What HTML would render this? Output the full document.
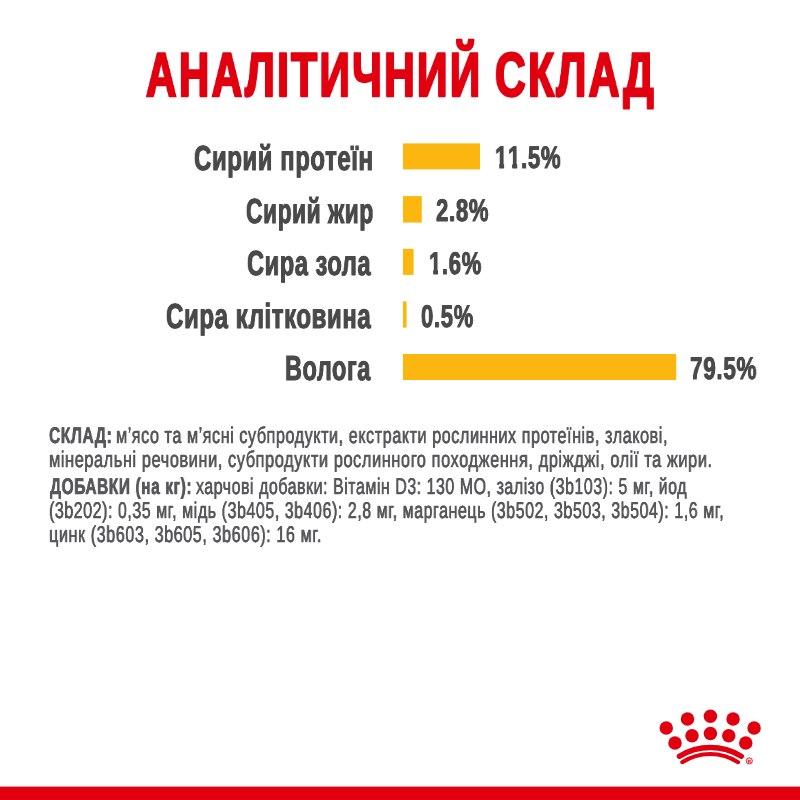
<!DOCTYPE html>
<html lang="uk"><head><meta charset="utf-8"><title>Аналітичний склад</title>
<style>
html,body{margin:0;padding:0;background:#fff;}
body{width:800px;height:800px;position:relative;overflow:hidden;font-family:"Liberation Sans",sans-serif;}
.o{display:inline-block;clip-path:polygon(-20% -50%,120% -50%,120% calc(.7445em - 1.7px),calc(.3706em + 1.2px) calc(.7445em - 1.7px),calc(.3706em + 1.2px) 150%,calc(.2334em - 1.2px) 150%,calc(.2334em - 1.2px) calc(.7445em - 1.7px),-20% calc(.7445em - 1.7px));}
.t{position:absolute;white-space:pre;line-height:1;transform-origin:0 0;font-family:"Liberation Sans",sans-serif;will-change:transform;text-rendering:geometricPrecision;}
#bars{position:absolute;left:0;top:0;}
</style></head><body>
<div class="t" style="left:145.95px;top:45.05px;font-size:62.00px;font-weight:700;color:#e1000f;transform:scaleX(0.6809);letter-spacing:3.5px;-webkit-text-stroke:2.4px #e1000f;text-shadow:1.3px 0 0 #e1000f,-1.3px 0 0 #e1000f;">АНАЛІТИЧНИЙ</div>
<div class="t" style="left:495.12px;top:45.05px;font-size:62.00px;font-weight:700;color:#e1000f;transform:scaleX(0.6858);letter-spacing:3.5px;-webkit-text-stroke:2.4px #e1000f;text-shadow:1.3px 0 0 #e1000f,-1.3px 0 0 #e1000f;">СКЛАД</div>
<div class="t" style="left:193.51px;top:142.09px;font-size:34.82px;font-weight:700;color:#4a4a4a;transform:scaleX(0.6890);letter-spacing:0.8px;-webkit-text-stroke:1.0px #4a4a4a;text-shadow:0.4px 0 0 #4a4a4a,-0.4px 0 0 #4a4a4a;">Сирий протеїн</div>
<div class="t" style="left:245.57px;top:194.59px;font-size:34.82px;font-weight:700;color:#4a4a4a;transform:scaleX(0.6559);letter-spacing:0.8px;-webkit-text-stroke:1.0px #4a4a4a;text-shadow:0.4px 0 0 #4a4a4a,-0.4px 0 0 #4a4a4a;">Сирий жир</div>
<div class="t" style="left:247.26px;top:247.09px;font-size:34.82px;font-weight:700;color:#4a4a4a;transform:scaleX(0.6800);letter-spacing:0.8px;-webkit-text-stroke:1.0px #4a4a4a;text-shadow:0.4px 0 0 #4a4a4a,-0.4px 0 0 #4a4a4a;">Сира зола</div>
<div class="t" style="left:165.66px;top:299.69px;font-size:34.82px;font-weight:700;color:#4a4a4a;transform:scaleX(0.6913);letter-spacing:0.8px;-webkit-text-stroke:1.0px #4a4a4a;text-shadow:0.4px 0 0 #4a4a4a,-0.4px 0 0 #4a4a4a;">Сира клітковина</div>
<div class="t" style="left:285.35px;top:352.49px;font-size:34.82px;font-weight:700;color:#4a4a4a;transform:scaleX(0.6750);letter-spacing:0.8px;-webkit-text-stroke:1.0px #4a4a4a;text-shadow:0.4px 0 0 #4a4a4a,-0.4px 0 0 #4a4a4a;">Волога</div>
<div class="t" style="left:494.92px;top:142.24px;font-size:31.19px;font-weight:700;color:#4a4a4a;transform:scaleX(0.7098);letter-spacing:1.0px;-webkit-text-stroke:0.8px #4a4a4a;text-shadow:0.4px 0 0 #4a4a4a,-0.4px 0 0 #4a4a4a;"><span class="o">1</span><span class="o">1</span>.5%</div>
<div class="t" style="left:436.27px;top:194.89px;font-size:31.46px;font-weight:700;color:#4a4a4a;transform:scaleX(0.7045);letter-spacing:1.0px;-webkit-text-stroke:0.8px #4a4a4a;text-shadow:0.4px 0 0 #4a4a4a,-0.4px 0 0 #4a4a4a;">2.8%</div>
<div class="t" style="left:428.52px;top:247.69px;font-size:31.46px;font-weight:700;color:#4a4a4a;transform:scaleX(0.6993);letter-spacing:1.0px;-webkit-text-stroke:0.8px #4a4a4a;text-shadow:0.4px 0 0 #4a4a4a,-0.4px 0 0 #4a4a4a;"><span class="o">1</span>.6%</div>
<div class="t" style="left:420.65px;top:300.69px;font-size:31.46px;font-weight:700;color:#4a4a4a;transform:scaleX(0.6998);letter-spacing:1.0px;-webkit-text-stroke:0.8px #4a4a4a;text-shadow:0.4px 0 0 #4a4a4a,-0.4px 0 0 #4a4a4a;">0.5%</div>
<div class="t" style="left:690.11px;top:352.99px;font-size:31.46px;font-weight:700;color:#4a4a4a;transform:scaleX(0.7133);letter-spacing:1.0px;-webkit-text-stroke:0.8px #4a4a4a;text-shadow:0.4px 0 0 #4a4a4a,-0.4px 0 0 #4a4a4a;">79.5%</div>
<div class="t" style="left:49.39px;top:423.89px;font-size:22.65px;font-weight:700;color:#58585a;transform:scaleX(0.6864);letter-spacing:0.9px;-webkit-text-stroke:0.45px #58585a;text-shadow:0.35px 0 0 #58585a,-0.35px 0 0 #58585a;">СКЛАД:</div>
<div class="t" style="left:116.43px;top:423.89px;font-size:22.75px;font-weight:400;color:#58585a;transform:scaleX(0.7094);letter-spacing:0.8px;-webkit-text-stroke:0.35px #58585a;text-shadow:0.3px 0 0 #58585a,-0.3px 0 0 #58585a;">м’ясо та м’ясні субпродукти, екстракти рослинних протеїнів, злакові,</div>
<div class="t" style="left:48.93px;top:447.94px;font-size:22.75px;font-weight:400;color:#58585a;transform:scaleX(0.7193);letter-spacing:0.8px;-webkit-text-stroke:0.35px #58585a;text-shadow:0.3px 0 0 #58585a,-0.3px 0 0 #58585a;">мінеральні речовини, субпродукти рослинного походження, дріжджі, олії та жири.</div>
<div class="t" style="left:49.85px;top:474.79px;font-size:22.65px;font-weight:700;color:#58585a;transform:scaleX(0.6815);letter-spacing:0.9px;-webkit-text-stroke:0.45px #58585a;text-shadow:0.35px 0 0 #58585a,-0.35px 0 0 #58585a;">ДОБАВКИ (на кг):</div>
<div class="t" style="left:196.48px;top:474.79px;font-size:22.75px;font-weight:400;color:#58585a;transform:scaleX(0.6991);letter-spacing:0.8px;-webkit-text-stroke:0.35px #58585a;text-shadow:0.3px 0 0 #58585a,-0.3px 0 0 #58585a;">харчові добавки: Вітамін D3: 130 МО, залізо (3b103): 5 мг, йод</div>
<div class="t" style="left:48.97px;top:498.74px;font-size:22.75px;font-weight:400;color:#58585a;transform:scaleX(0.7018);letter-spacing:0.8px;-webkit-text-stroke:0.35px #58585a;text-shadow:0.3px 0 0 #58585a,-0.3px 0 0 #58585a;">(3b202): 0,35 мг, мідь (3b405, 3b406): 2,8 мг, марганець (3b502, 3b503, 3b504): 1,6 мг,</div>
<div class="t" style="left:48.93px;top:522.69px;font-size:22.75px;font-weight:400;color:#58585a;transform:scaleX(0.7110);letter-spacing:0.8px;-webkit-text-stroke:0.35px #58585a;text-shadow:0.3px 0 0 #58585a,-0.3px 0 0 #58585a;">цинк (3b603, 3b605, 3b606): 16 мг.</div>
<svg id="bars" width="800" height="800" viewBox="0 0 800 800"><g fill="#fbb70f">
<rect x="403" y="143.4" width="77.00" height="26.00"/>
<rect x="403" y="196.1" width="18.80" height="26.50"/>
<rect x="403" y="248.8" width="10.60" height="26.10"/>
<rect x="403" y="301.4" width="3.60" height="26.20"/>
<rect x="403" y="354" width="273.20" height="26.00"/>
</g><rect x="0" y="786.6" width="800" height="14" fill="#e1000f"/></svg>
<svg style="position:absolute;left:640px;top:700px" width="140" height="80" viewBox="640 700 140 80">
<g fill="#e1000f">
<circle cx="710.4" cy="716.25" r="6.75"/>
<circle cx="687.5" cy="719.1" r="6.75"/>
<circle cx="733.1" cy="719.1" r="6.75"/>
<circle cx="666.25" cy="728" r="6.75"/>
<circle cx="754.1" cy="728" r="6.75"/>
<circle cx="692" cy="735.75" r="6.75"/>
<circle cx="710.4" cy="733.5" r="6.75"/>
<circle cx="728.75" cy="735.75" r="6.75"/>
<circle cx="675" cy="743.1" r="6.75"/>
<circle cx="745.75" cy="743.1" r="6.75"/>
</g>
<path d="M679.4 756.25 A59 59 0 0 1 741.25 756.25" fill="none" stroke="#e1000f" stroke-width="5.4" stroke-linecap="round"/>
<path d="M682.25 762.25 A51.4 51.4 0 0 1 738.1 762.25" fill="none" stroke="#e1000f" stroke-width="4" stroke-linecap="round"/>
<circle cx="749.3" cy="760.9" r="3.1" fill="#fbd5d8" stroke="#e1000f" stroke-width="0.8"/>
<text x="749.4" y="762.9" font-family="Liberation Sans, sans-serif" font-size="4.4" font-weight="700" fill="#e1000f" text-anchor="middle">R</text>
</svg>
</body></html>
